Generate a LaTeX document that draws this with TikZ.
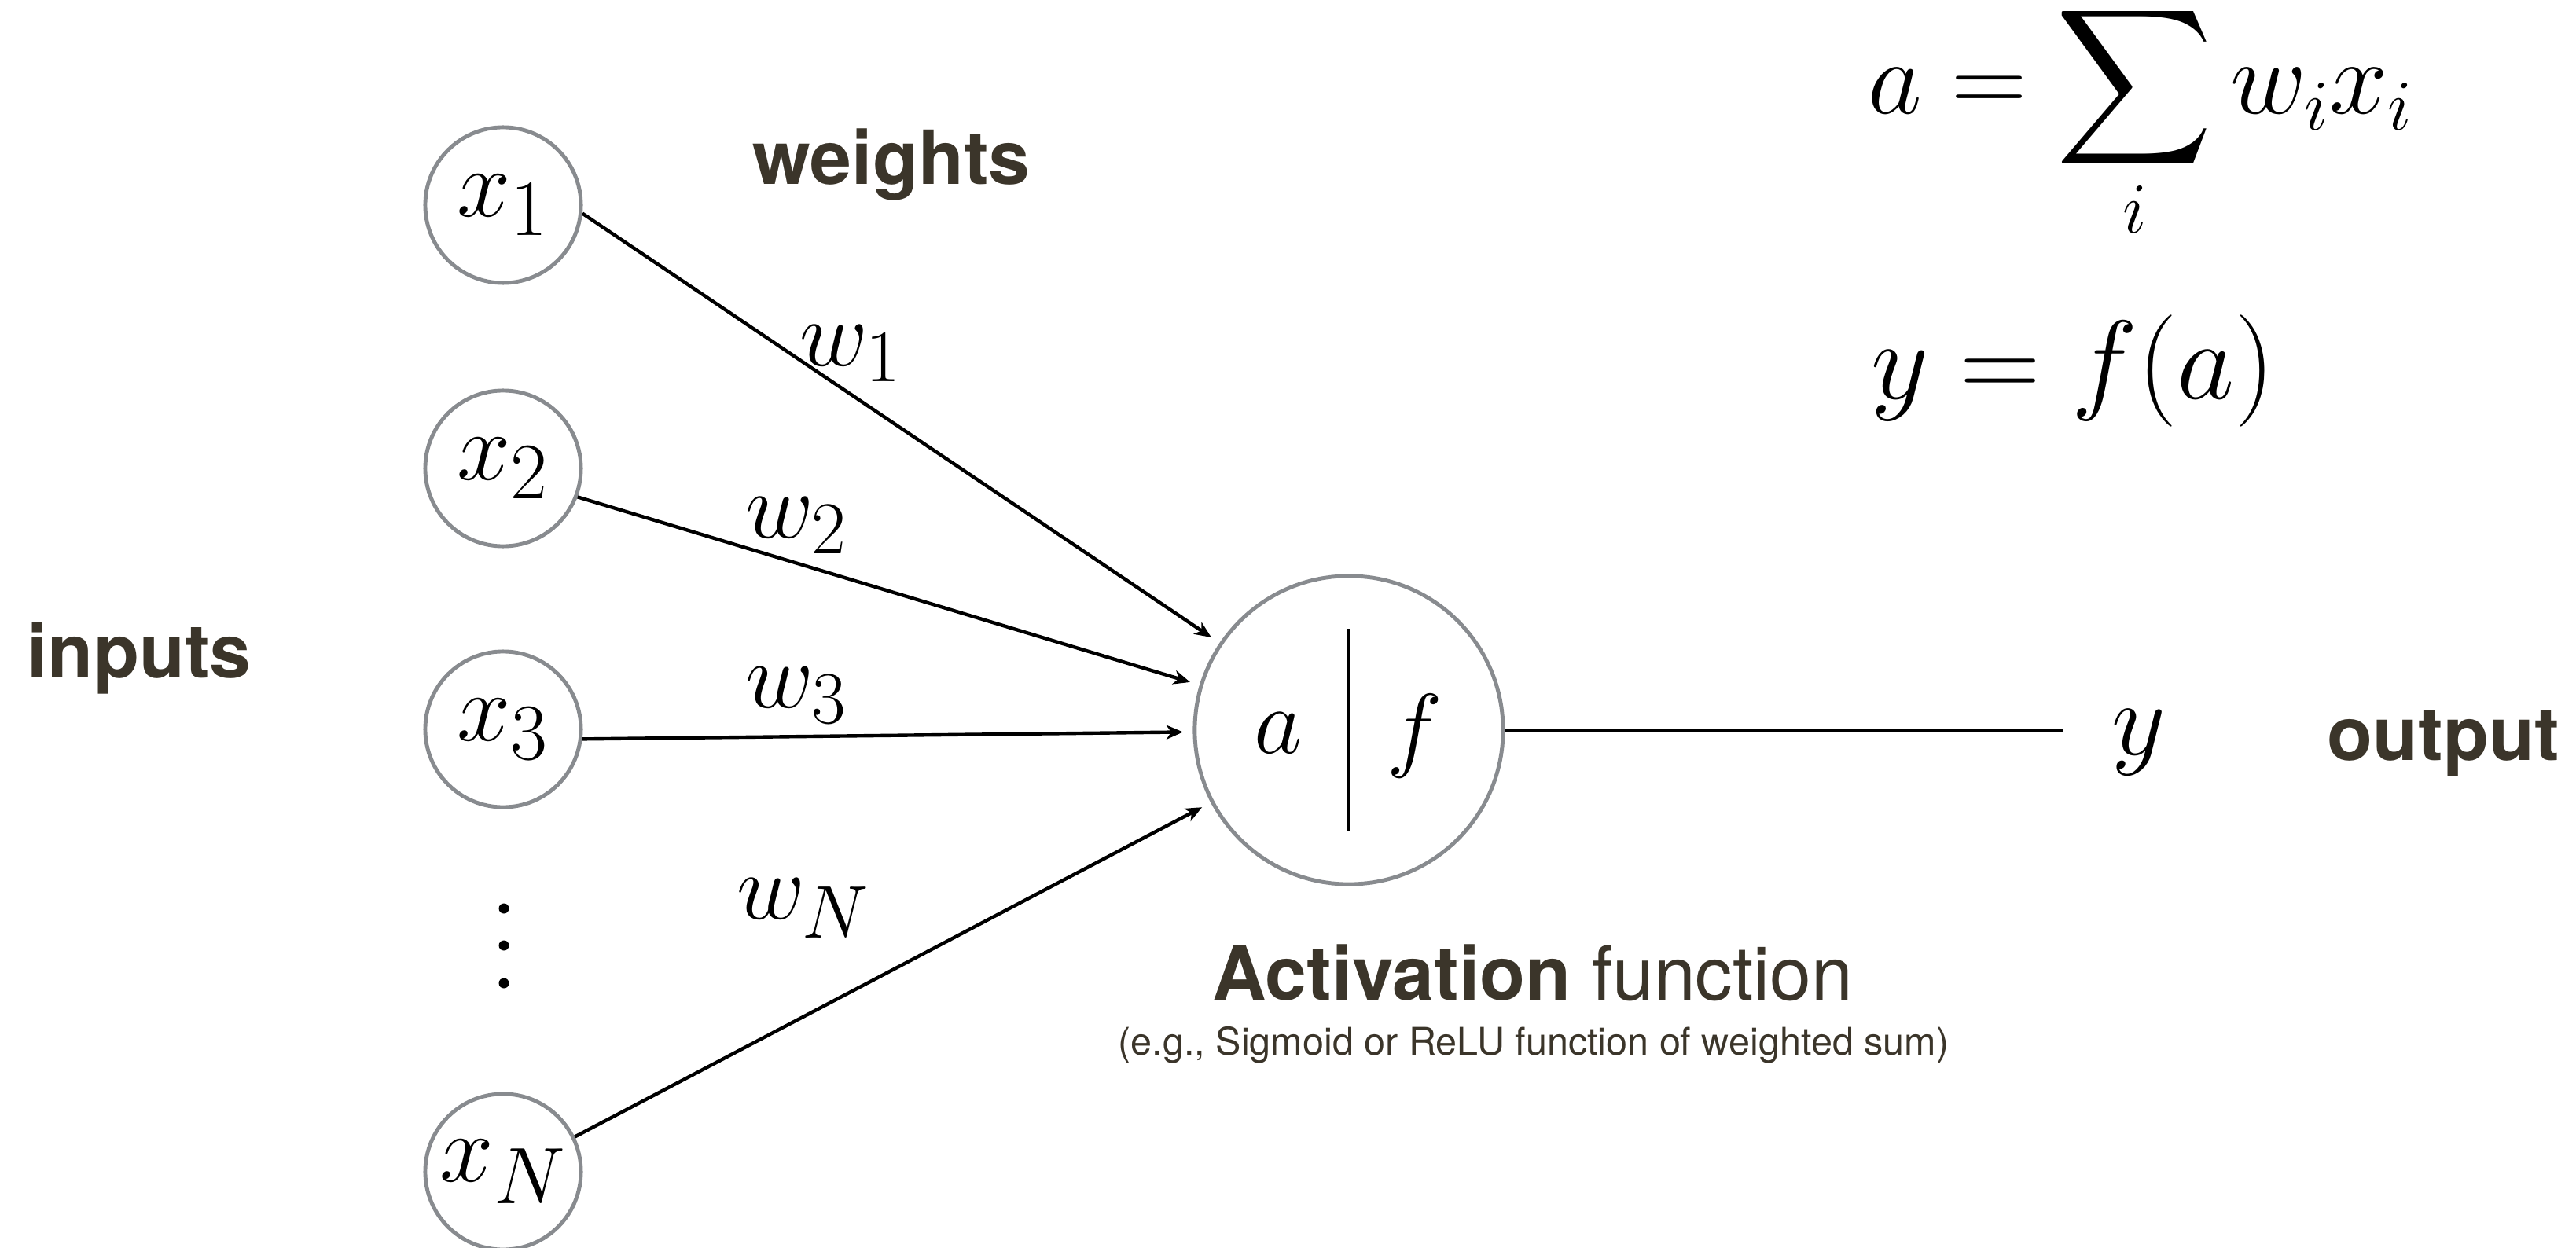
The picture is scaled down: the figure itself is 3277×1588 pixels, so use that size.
\RequirePackage{fix-cm}
\documentclass[tikz,border=0pt]{standalone}
\usepackage{exscale}
\usepackage{fontspec}
\setsansfont{TeX Gyre Heros}
\usetikzlibrary{arrows.meta,calc}
\definecolor{txt}{RGB}{59,53,42}
\definecolor{ring}{RGB}{136,139,143}
\DeclareMathSizes{34}{34}{27}{20}
\DeclareMathSizes{35}{35}{29}{22}
\DeclareMathSizes{38}{38}{26}{20}
\DeclareMathSizes{40.5}{40.5}{28}{21}
\newcommand{\bigsum}{\mathop{\vcenter{\hbox{\scalebox{1.58}{$\displaystyle\sum$}}}}\limits}
\begin{document}
\begin{tikzpicture}[x=0.01cm,y=-0.01cm,
  inp/.style={circle,draw=ring,line width=1.4pt,minimum size=1.98cm,inner sep=0pt,font=\fontsize{35}{40}\selectfont},
  lab/.style={inner sep=0pt,font=\fontsize{34}{40}\selectfont},
  big/.style={inner sep=0pt,font=\fontsize{38}{44}\selectfont},
  bigger/.style={inner sep=0pt,font=\fontsize{40.5}{46}\selectfont},
  word/.style={inner sep=0pt,text=txt,font=\sffamily\bfseries\fontsize{27}{32}\selectfont},
  note/.style={inner sep=0pt,text=txt,font=\sffamily\fontsize{13.8}{16}\selectfont},
  conn/.style={line width=1.25pt,-{Stealth[length=0.21cm,width=0.18cm,inset=0.06cm]},shorten >=2.11cm},
  plain/.style={line width=1.25pt}]
\useasboundingbox (0,0) rectangle (3277,1588);
% inputs
\node[inp] (x1) at (640,261) {$x_1$};
\node[inp] (x2) at (640,596) {$x_2$};
\node[inp] (x3) at (640,928) {$x_3$};
\node[inp] (xN) at (640,1491) {$x_N$};
\fill (641,1156) circle[radius=0.065cm];
\fill (641,1203) circle[radius=0.065cm];
\fill (641,1251) circle[radius=0.065cm];
% neuron
\node[inp,minimum size=3.92cm] (act) at (1716,929) {};
\node[lab] (alab) at (1626,933) {$a$};
\node[lab] (flab) at (1800,937) {$f$};
\draw[plain] ($(act.center)+(0,-129)$) -- ($(act.center)+(0,129)$);
% connectors
\draw[conn] (x1.-6) -- (act.center);
\draw[conn] (x2.-21) -- (act.center);
\draw[conn] (x3.-7) -- (act.center);
\draw[conn] (xN.26) -- (act.center);
\coordinate (yend) at (2625,929);
\draw[plain] (act.east) -- (yend);
\node[big,anchor=base] (ylab) at (2721,960) {$y$};
% weights
\node[lab] (w1) at (1082,450) {$w_1$};
\node[lab] (w2) at (1013,669) {$w_2$};
\node[lab] (w3) at (1013,885) {$w_3$};
\node[lab] (wN) at (1022,1156) {$w_N$};
% words
\node[word,anchor=base] (weights) at (1134,235) {weights};
\node[word,anchor=base] (inputs) at (177,862) {inputs};
\node[word,anchor=base] (output) at (3108,967) {output};
\node[word,anchor=base] (actname) at (1950,1272) {Activation \mdseries function};
\node[note,anchor=base] (actnote) at (1951,1342) {(e.g., Sigmoid or ReLU function of weighted sum)};
% formulas
\node[big,anchor=base west] (suma) at (2376,145) {$a=\bigsum_i w_ix_i$};
\node[bigger,anchor=base west] (yfa) at (2380,508) {$y=f(a)$};
\end{tikzpicture}
\end{document}
